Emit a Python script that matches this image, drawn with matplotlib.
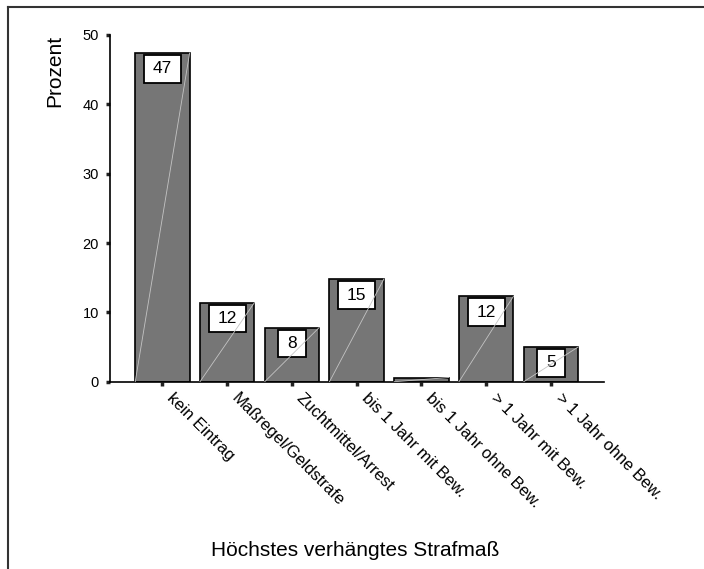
import matplotlib.pyplot as plt
from matplotlib.lines import Line2D
from matplotlib.patches import Rectangle

plt.rcParams['font.family'] = ['Liberation Sans', 'DejaVu Sans']

# Daten
kategorien = ['kein Eintrag', 'Maßregel/Geldstrafe', 'Zuchtmittel/Arrest',
              'bis 1 Jahr mit Bew.', 'bis 1 Jahr ohne Bew.', '> 1 Jahr mit Bew.',
              '> 1 Jahr ohne Bew.']
prozent = [47.4, 11.4, 7.8, 14.8, 0.6, 12.3, 5.0]
beschriftung = ['47', '12', '8', '15', '', '12', '5']
y_ticks = [0, 10, 20, 30, 40, 50]

fig = plt.figure(figsize=(7.04, 5.69), dpi=100)
ax = fig.add_axes([110 / 704, 1 - 381.7 / 569, 494 / 704, 346.7 / 569])

x = list(range(len(kategorien)))
breite = 0.84
ax.bar(x, prozent, width=breite, color='#767676', edgecolor='black', linewidth=1.2, zorder=2)

# schwache Diagonale in jedem Balken (wie im Original)
for xi, v in zip(x, prozent):
    ax.plot([xi - breite / 2, xi + breite / 2], [0, v], color='#c4c4c4', lw=0.6, zorder=5)

# Wertkästchen
for xi, v, txt in zip(x, prozent, beschriftung):
    if not txt:
        continue
    w = 0.27 + 0.15 * len(txt)
    h = 4.0
    top = v - 0.3
    ax.add_patch(Rectangle((xi - w / 2, top - h), w, h, facecolor='white',
                           edgecolor='black', linewidth=1.3, zorder=3))
    ax.text(xi, top - h / 2, txt, ha='center', va='center', fontsize=12.5, zorder=4)

ax.set_xlim(-0.81, 6.82)
ax.set_ylim(0, 50)
ax.set_yticks(y_ticks)
ax.set_xticks(x)
ax.set_xticklabels([])
for xi, name in zip(x, kategorien):
    ax.annotate(name, xy=(xi, 0), xycoords=('data', 'axes fraction'),
                xytext=(9, -6), textcoords='offset points',
                rotation=-45, ha='left', va='top', rotation_mode='anchor',
                fontsize=12, annotation_clip=False)

ax.tick_params(axis='y', direction='out', length=3, width=2.5, labelsize=10.5, pad=5, color='#222222')
ax.tick_params(axis='x', direction='out', length=3, width=2.5, color='#222222')

for s in ['top', 'right']:
    ax.spines[s].set_visible(False)
ax.spines['left'].set_linewidth(1.2)
ax.spines['bottom'].set_linewidth(1.2)

ax.set_ylabel('Prozent', fontsize=15, loc='top', labelpad=13)
fig.text(355 / 704, 1 - 550 / 569, 'Höchstes verhängtes Strafmaß', ha='center', va='center', fontsize=15)

# Rahmen links und oben
fig.add_artist(Line2D([8 / 704, 8 / 704], [0, 1 - 7 / 569], color='#333333', lw=1.5))
fig.add_artist(Line2D([8 / 704, 1], [1 - 7 / 569, 1 - 7 / 569], color='#333333', lw=1.5))

fig.savefig('out.png', dpi=100)
